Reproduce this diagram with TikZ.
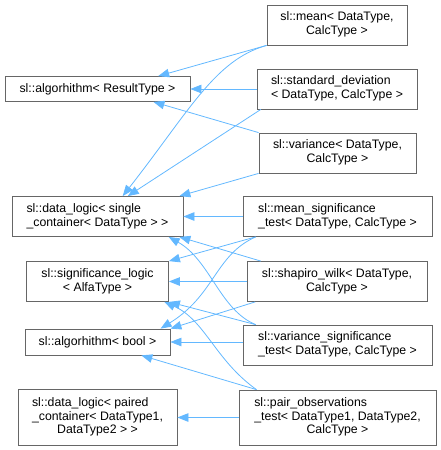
\documentclass[tikz,border=0pt]{standalone}
\usepackage{fontspec}
\setmainfont{Liberation Sans}
\usepackage{tikz}
\usetikzlibrary{arrows.meta, calc}
\definecolor{EdgeBlue}{HTML}{63B8FF}
\definecolor{BoxGray}{HTML}{666666}
\newcommand{\doxlabel}[2]{\begin{tabular}{@{}l@{}}#1\\\multicolumn{1}{@{}c@{}}{#2}\end{tabular}}

\begin{document}
\begin{tikzpicture}[x=1pt, y=-1pt,
    cls/.style={draw=BoxGray, fill=white, line width=0.8pt, inner sep=0pt, font=\fontsize{12.3}{13.6}\selectfont},
    inherit/.style={draw=EdgeBlue, line width=0.8pt, -{Triangle[length=11pt, width=8.5pt]}}]
            \useasboundingbox (0,0) rectangle (441,450);
            % base classes
            \node[cls, minimum width=185, minimum height=25] (algRT) at (97.5, 89) {sl::algorhithm< ResultType >};
            \node[cls, minimum width=171, minimum height=40] (dataSingle) at (97.5, 216.5) {\doxlabel{sl::data\_logic< single}{\_container< DataType > >}};
            \node[cls, minimum width=142, minimum height=40] (sigLogic) at (97.5, 281.5) {\doxlabel{sl::significance\_logic}{< AlfaType >}};
            \node[cls, minimum width=145, minimum height=26] (algBool) at (97.5, 342) {sl::algorhithm< bool >};
            \node[cls, minimum width=159, minimum height=56] (dataPaired) at (97.5, 417.5) {\doxlabel{sl::data\_logic< paired\\\_container< DataType1,}{DataType2 > >}};
            % derived classes
            \node[cls, minimum width=140, minimum height=40] (mean) at (337, 25) {\doxlabel{sl::mean< DataType,}{CalcType >}};
            \node[cls, minimum width=160, minimum height=40] (stdev) at (337, 89) {\doxlabel{sl::standard\_deviation}{< DataType, CalcType >}};
            \node[cls, minimum width=157, minimum height=40] (variance) at (337.5, 153) {\doxlabel{sl::variance< DataType,}{CalcType >}};
            \node[cls, minimum width=189, minimum height=40] (meanSig) at (337.5, 216.5) {\doxlabel{sl::mean\_significance}{\_test< DataType, CalcType >}};
            \node[cls, minimum width=180, minimum height=40] (shapiro) at (337, 281.5) {\doxlabel{sl::shapiro\_wilk< DataType,}{CalcType >}};
            \node[cls, minimum width=189, minimum height=40] (varSig) at (337.5, 345) {\doxlabel{sl::variance\_significance}{\_test< DataType, CalcType >}};
            \node[cls, minimum width=197, minimum height=55] (pairObs) at (337.5, 417.5) {\doxlabel{sl::pair\_observations\\\_test< DataType1, DataType2,}{CalcType >}};
            % inheritance
            \draw[inherit] (mean.south west) -- (algRT.12);
            \draw[inherit] (mean.south west) .. controls (215,60) and (190,110) .. (dataSingle.39);
            \draw[inherit] (stdev.west) -- (algRT.east);
            \draw[inherit] (stdev.195) -- (dataSingle.34);
            \draw[inherit] (variance.north west) -- (algRT.-13);
            \draw[inherit] (variance.south west) -- (dataSingle.14);
            \draw[inherit] (meanSig.west) -- (dataSingle.east);
            \draw[inherit] (meanSig.194) -- (sigLogic.north east);
            \draw[inherit] (meanSig.194) .. controls (215,255) and (215,295) .. (algBool.12);
            \draw[inherit] (shapiro.165) -- (dataSingle.-14);
            \draw[inherit] (shapiro.west) -- (sigLogic.east);
            \draw[inherit] (shapiro.194) -- (algBool.north east);
            \draw[inherit] (varSig.166) .. controls (220,310) and (210,260) .. (dataSingle.-16);
            \draw[inherit] (varSig.166) -- (sigLogic.south east);
            \draw[inherit] (algBool.east -| varSig.west) -- (algBool.east);
            \draw[inherit] (pairObs.161) .. controls (215,360) and (205,320) .. (sigLogic.-17);
            \draw[inherit] (pairObs.161) -- (algBool.-17);
            \draw[inherit] (pairObs.west) -- (dataPaired.east);
        \end{tikzpicture}
\end{document}
